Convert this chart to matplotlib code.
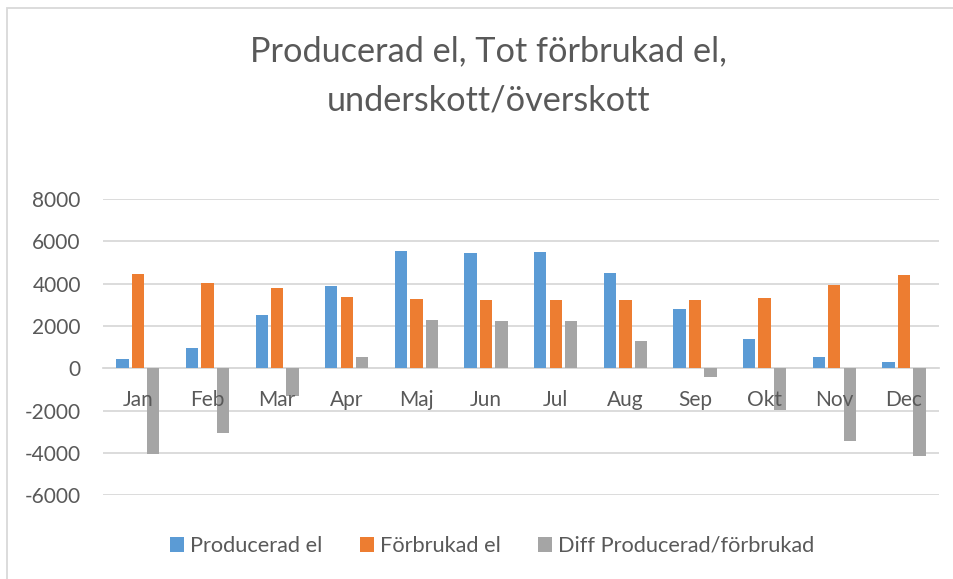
import numpy as np
import matplotlib.pyplot as plt
from matplotlib.patches import Rectangle

months = ['Jan', 'Feb', 'Mar', 'Apr', 'Maj', 'Jun', 'Jul', 'Aug', 'Sep', 'Okt', 'Nov', 'Dec']
producerad = [420, 960, 2500, 3900, 5550, 5460, 5500, 4530, 2820, 1390, 530, 280]
forbrukad = [4460, 4040, 3820, 3360, 3270, 3220, 3250, 3250, 3230, 3340, 3960, 4430]
diff = [-4050, -3080, -1290, 540, 2300, 2220, 2250, 1280, -430, -1960, -3440, -4150]
yticks = [-6000, -4000, -2000, 0, 2000, 4000, 6000, 8000]

series_names = ['Producerad el', 'Förbrukad el', 'Diff Producerad/förbrukad']
colors = ['#5B9BD5', '#ED7D31', '#A5A5A5']
text_col = '#595959'
grid_col = '#D9D9D9'

plt.rcParams['font.family'] = ['Lato', 'DejaVu Sans']

fig = plt.figure(figsize=(9.54, 5.79), dpi=100)
ax = fig.add_axes([0.108, 0.145, 0.876, 0.511])

x = np.arange(len(months))
w = 0.177
step = 0.222
for i, (vals, name, c) in enumerate(zip([producerad, forbrukad, diff], series_names, colors)):
    ax.bar(x + (i - 1) * step, vals, width=w, color=c, label=name, zorder=3)

ax.set_xlim(-0.5, len(months) - 0.5)
ax.set_ylim(-6000, 8000)
ax.set_yticks(yticks)
ax.set_yticklabels([str(v) for v in yticks])
ax.yaxis.grid(True, color=grid_col, linewidth=1.3, zorder=0)
ax.set_xticks(x)
ax.set_xticklabels(months)
ax.xaxis.set_zorder(5)  # month names are drawn on top of the bars

for s in ['top', 'right', 'left']:
    ax.spines[s].set_visible(False)
ax.spines['bottom'].set_position(('data', 0))
ax.spines['bottom'].set_color(grid_col)
ax.spines['bottom'].set_linewidth(1.3)
ax.spines['bottom'].set_zorder(1)

ax.tick_params(axis='both', length=0, labelsize=15, labelcolor=text_col)
ax.tick_params(axis='x', pad=16)
ax.tick_params(axis='y', pad=16)

fig.text(0.512, 0.912, 'Producerad el, Tot förbrukad el,', ha='center', va='center',
         fontsize=24.7, color=text_col)
fig.text(0.512, 0.826, 'underskott/överskott', ha='center', va='center',
         fontsize=24.7, color=text_col)

leg = fig.legend(loc='center', bbox_to_anchor=(0.516, 0.057), ncol=3, frameon=False,
                 fontsize=15.7, handlelength=0.65, handleheight=0.65, handletextpad=0.28,
                 columnspacing=1.7, labelcolor=text_col)

# chart border
fig.patches.append(Rectangle((7 / 954, -0.1), 1.2, 1 - 8 / 579 + 0.1, transform=fig.transFigure,
                             fill=False, edgecolor=grid_col, linewidth=1.3))

fig.savefig('out.png', dpi=100)
